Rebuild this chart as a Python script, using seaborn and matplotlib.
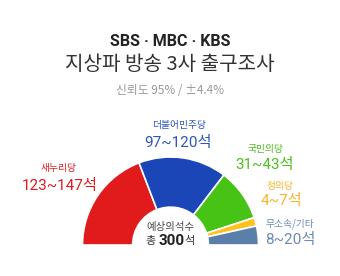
import matplotlib
matplotlib.use("Agg")
import matplotlib.pyplot as plt
import seaborn as sns

sns.set_theme(style="white")
plt.rcParams['font.family'] = ['Roboto', 'Noto Sans CJK KR', 'DejaVu Sans']

# data
parties = ["새누리당", "더불어민주당", "국민의당", "정의당", "무소속/기타"]
seat_ranges = ["123~147석", "97~120석", "31~43석", "4~7석", "8~20석"]
arc_share = [69.0, 58.3, 34.5, 5.6, 12.5]  # visible share of the half circle
colors = ["#E11A1C", "#1B46B8", "#47C316", "#FFC11E", "#5A7FA8"]
text_colors = ["#E11A1C", "#2E55BE", "#4DBE1C", "#F7B52B", "#6B8BB5"]
title_logo = "SBS · MBC · KBS"
title = "지상파 방송 3사 출구조사"
subtitle = "신뢰도 95% / ±4.4%"
center_top = "예상의석수"
total_seats = "300"

W, H = 340, 276
fig = plt.figure(figsize=(W / 100, H / 100), dpi=100)
fig.patch.set_facecolor("white")

def fx(x):
    return x / W

def fy(y):
    return 1 - y / H

# semicircle donut
cx, cy, R = 170.5, 245, 88
ax = fig.add_axes([fx(cx - R), fy(cy + R), 2 * R / W, 2 * R / H])
values = arc_share + [sum(arc_share)]
cols = colors + ["none"]
wedges, _ = ax.pie(values, colors=cols, startangle=180, counterclock=False,
                   radius=1.0,
                   wedgeprops=dict(width=0.57, edgecolor="white", linewidth=1.2))
wedges[-1].set_edgecolor("none")
ax.set_xlim(-1, 1)
ax.set_ylim(-1, 1)
ax.set_aspect("equal")
ax.axis("off")

# titles
fig.text(fx(170), fy(42), title_logo, ha="center", va="center",
         fontsize=11.5, fontweight="bold", color="#222222",
         family=['Roboto', 'Noto Sans CJK KR'])
fig.text(fx(170), fy(64), title, ha="center", va="center",
         fontsize=14.5, color="#333333", family=['Noto Sans CJK KR'])
fig.text(fx(170), fy(90), subtitle, ha="center", va="center",
         fontsize=8.5, color="#999999", family=['Noto Sans CJK KR', 'DejaVu Sans'])

# party labels
name_pos = [(59, 168), (179, 125), (265, 149), (280, 186), (290, 224)]
range_pos = [(60, 186), (178, 143), (265, 165), (281, 201), (290, 240)]
for i in range(len(parties)):
    nx, ny = name_pos[i]
    rx, ry = range_pos[i]
    fig.text(fx(nx), fy(ny), parties[i], ha="center", va="center",
             fontsize=7, color=text_colors[i], family=['Noto Sans CJK KR'])
    fig.text(fx(rx), fy(ry), seat_ranges[i], ha="center", va="center",
             fontsize=11, color=text_colors[i],
             family=['Roboto', 'Noto Sans CJK KR'])

# center text
fig.text(fx(170), fy(227), center_top, ha="center", va="center",
         fontsize=7.5, color="#444444", family=['Noto Sans CJK KR'])
fig.text(fx(151), fy(241), "총", ha="center", va="center",
         fontsize=8, color="#333333", family=['Noto Sans CJK KR'])
fig.text(fx(172), fy(241), total_seats, ha="center", va="center",
         fontsize=11, fontweight="bold", color="#222222", family=['Roboto'])
fig.text(fx(190), fy(241), "석", ha="center", va="center",
         fontsize=8, color="#333333", family=['Noto Sans CJK KR'])

fig.savefig("out.png", dpi=100, facecolor="white")
